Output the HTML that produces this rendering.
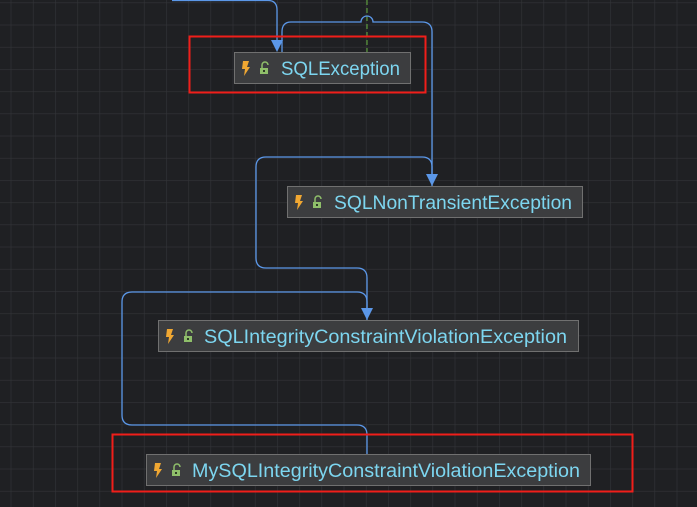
<!DOCTYPE html>
<html><head><meta charset="utf-8"><style>
html,body{margin:0;padding:0;background:#1f2023;}
svg{display:block;}
text{font-family:"Liberation Sans",sans-serif;}
</style></head><body>
<svg width="697" height="507" viewBox="0 0 697 507" xmlns="http://www.w3.org/2000/svg">
<defs>
<pattern id="g" x="10.7" y="2.5" width="22.2" height="22.2" patternUnits="userSpaceOnUse">
<path d="M0 0H22.2M0 0V22.2" stroke="#333438" stroke-width="1.2" fill="none"/>
</pattern>
<g id="bolt"><path d="M-3 -7 L3 -7 L1 -1 L4 -1 L-2 8 L-1 1 L-4 1 Z" fill="#f0a732"/></g>
<g id="lock"><rect x="-4" y="-1" width="8" height="6" fill="#8fbf6a"/><path d="M-2 -1 V-4 A3 3 0 0 1 4 -4" stroke="#8fbf6a" stroke-width="1.5" fill="none"/><rect x="-1" y="1" width="2" height="2" fill="#2d3a25"/></g>
</defs>
<rect width="697" height="507" fill="#1f2023"/>
<rect width="697" height="507" fill="url(#g)"/>

<line x1="367" y1="0" x2="367" y2="52" stroke="#5a9a3a" stroke-width="1.2" stroke-dasharray="5,3"/>

<g stroke="#5b97e8" stroke-width="1.3" fill="none">
<path d="M172 0.5 H268 Q277 0.5 277 10 V44"/>
<path d="M432 186 V32 Q432 22 422 22 H373 A6 6 0 0 0 361 22 H291 Q282 22 282 32 V52"/>
<path d="M367 320 V278 Q367 268 357 268 H266 Q256 268 256 258 V167 Q256 157 266 157 H422 Q432 157 432 167 V178"/>
<path d="M367 454 V435 Q367 425 357 425 H132 Q122 425 122 415 V302 Q122 292 132 292 H357 Q367 292 367 302 V312"/>
</g>
<g fill="#5b97e8">
<path d="M271 40 H283 L277 52 Z"/>
<path d="M426 174 H438 L432 186 Z"/>
<path d="M361 308 H373 L367 320 Z"/>
</g>

<rect x="189.5" y="36.5" width="236" height="56" fill="none" stroke="#f01e1a" stroke-width="2"/>
<rect x="112.5" y="434.5" width="520" height="57" fill="none" stroke="#f01e1a" stroke-width="2"/>

<g stroke="#707070" stroke-width="1" fill="#3c3d3f">
<rect x="234.5" y="52.5" width="176" height="31"/>
<rect x="287.5" y="186.5" width="295" height="31"/>
<rect x="158.5" y="320.5" width="420" height="31"/>
<rect x="146.5" y="454.5" width="444" height="31"/>
</g>
<use href="#bolt" x="246" y="68"/><use href="#lock" x="264" y="69"/>
<use href="#bolt" x="299" y="202"/><use href="#lock" x="317" y="203"/>
<use href="#bolt" x="170" y="336"/><use href="#lock" x="188" y="337"/>
<use href="#bolt" x="158" y="470"/><use href="#lock" x="176" y="471"/>
<g fill="#7dd6f0" font-size="19">
<text x="281" y="75" textLength="119" lengthAdjust="spacingAndGlyphs">SQLException</text>
<text x="334" y="209" textLength="238" lengthAdjust="spacingAndGlyphs">SQLNonTransientException</text>
<text x="204" y="343" textLength="363" lengthAdjust="spacingAndGlyphs">SQLIntegrityConstraintViolationException</text>
<text x="192" y="477" textLength="388" lengthAdjust="spacingAndGlyphs">MySQLIntegrityConstraintViolationException</text>
</g>
</svg>
</body></html>
